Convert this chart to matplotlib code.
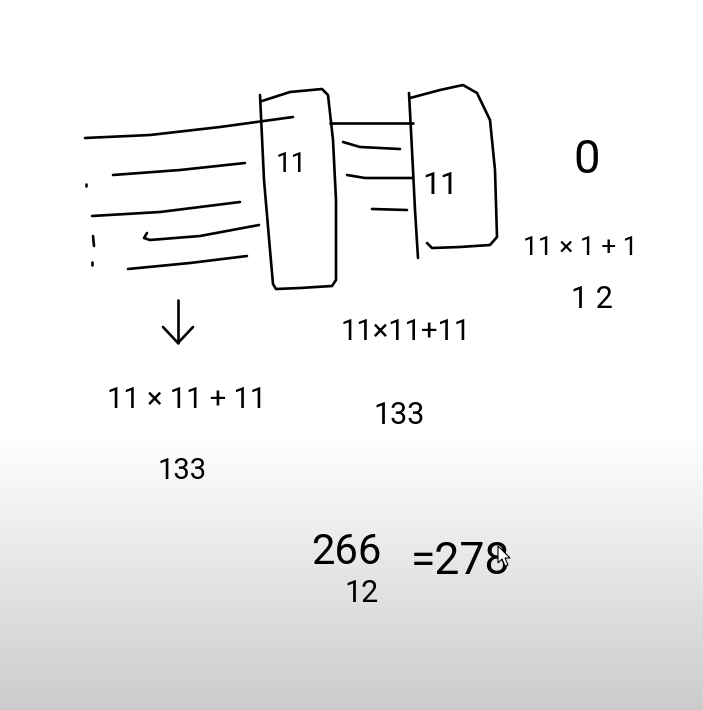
import matplotlib.pyplot as plt
import numpy as np

# hand drawn strokes, in picture pixels (x, y)
box_left = [(260, 95), (264, 180), (270, 250), (273, 284), (276, 289), (300, 288), (332, 286),
            (336, 280), (336, 200), (333, 140), (328, 95), (322, 89), (290, 92), (262, 101)]
box_right = [(409, 93), (412, 150), (415, 210), (418, 258)]
box_right_outline = [(410, 98), (440, 90), (463, 85), (477, 93), (490, 120), (495, 170),
                     (497, 237), (490, 245), (460, 247), (432, 248), (427, 243)]
bridge = [(330, 123), (413, 123)]
left_lines = [
    [(85, 138), (150, 135), (220, 127), (293, 117)],
    [(113, 175), (180, 170), (245, 163)],
    [(92, 216), (160, 212), (240, 202)],
    [(147, 233), (144, 238), (150, 240), (200, 236), (259, 225)],
    [(128, 269), (190, 263), (247, 256)],
]
right_lines = [
    [(343, 142), (360, 147), (400, 149)],
    [(347, 175), (365, 178), (412, 178)],
    [(372, 209), (407, 210)],
]
dots = [[(86, 184), (86, 186)], [(93, 236), (94, 246)], [(92, 262), (92, 265)]]
arrow = [[(178, 300), (178, 343)], [(163, 327), (178, 343), (193, 327)]]

# mouse pointer sitting on the last digit
cursor = [(498, 546), (498, 563), (502, 559), (505, 566), (508, 565), (505, 558), (510, 558)]

# written labels: text, x, y, size
labels = ["11", "11", "0", "11 × 1 + 1", "1 2", "11×11+11", "11 × 11 + 11", "133", "133",
          "266", "12", "=278"]
label_x = [291, 440, 587, 580, 592, 406, 187, 399, 182, 346, 362, 460]
label_y = [165, 185, 160, 248, 300, 332, 400, 415, 471, 552, 594, 562]
label_size = [20, 23, 34, 19, 22, 21, 21, 22, 21, 30, 22, 32]

fig = plt.figure(figsize=(7.03, 7.10), dpi=100)
ax = fig.add_axes([0, 0, 1, 1])
ax.set_xlim(0, 703)
ax.set_ylim(710, 0)
ax.axis('off')

# background: white, fading to grey at the bottom
rows = np.arange(710)
shade = np.where(rows < 430, 1.0, 1.0 - (rows - 430) / 280 * 0.205)
bg = np.repeat(shade[:, None], 703, axis=1)
ax.imshow(bg, cmap='gray', vmin=0, vmax=1, extent=(0, 703, 710, 0), aspect='auto', zorder=0)

pen = dict(color='black', lw=1.9, solid_capstyle='round', solid_joinstyle='round', zorder=2)
strokes = [box_left, box_right, box_right_outline, bridge] + left_lines + right_lines + dots + arrow
for s in strokes:
    xs, ys = zip(*s)
    ax.plot(xs, ys, **pen)

for t, x, y, fs in zip(labels, label_x, label_y, label_size):
    ax.text(x, y, t, fontsize=fs, family='Roboto', fontweight='normal',
            ha='center', va='center', color='black', zorder=3)

ax.add_patch(plt.Polygon(cursor, closed=True, facecolor='white', edgecolor='black',
                         lw=0.8, zorder=4))

fig.savefig('out.png', dpi=100)
